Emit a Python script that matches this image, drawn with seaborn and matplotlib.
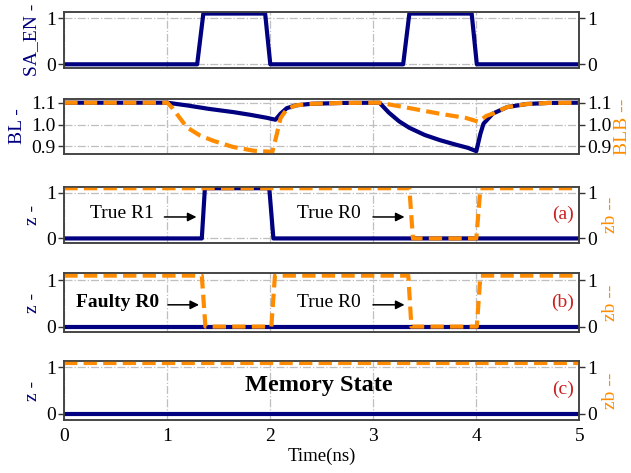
import numpy as np
import pandas as pd
import matplotlib
matplotlib.use("Agg")
import matplotlib.pyplot as plt
import seaborn as sns

sns.set_style("white")
plt.rcParams['font.family'] = ['Liberation Serif', 'DejaVu Serif']
plt.rcParams['text.color'] = 'black'
plt.rcParams['axes.labelcolor'] = 'black'
plt.rcParams['xtick.color'] = 'black'
plt.rcParams['ytick.color'] = 'black'

NAVY = "#000080"
ORANGE = "#FF8C00"
RED = "#CC1F1F"

# ---------------- data ----------------
t_sa = [0, 1.29, 1.35, 1.95, 2.0, 3.29, 3.35, 3.955, 4.005, 5]
sa_en = [0, 0, 1.1, 1.1, 0, 0, 1.1, 1.1, 0, 0]

t_bl = [0, 1.0, 1.2, 1.4, 1.64, 1.8, 1.965, 2.05, 2.1, 2.16, 2.25, 2.4, 2.7,
        3.06, 3.15, 3.25, 3.35, 3.5, 3.65, 3.8, 3.92, 4.0, 4.04, 4.07, 4.16, 4.3, 4.49, 4.7, 5.0]
bl = [1.1, 1.1, 1.087, 1.072, 1.057, 1.045, 1.031, 1.022, 1.05, 1.075, 1.088, 1.095, 1.099,
      1.1, 1.055, 1.015, 0.985, 0.952, 0.928, 0.908, 0.893, 0.878, 0.958, 1.004, 1.05, 1.08, 1.094, 1.099, 1.1]

t_blb = [0, 1.0, 1.05, 1.19, 1.32, 1.45, 1.64, 1.84, 2.02, 2.06, 2.1, 2.16, 2.25, 2.4, 2.7,
         3.06, 3.32, 3.64, 3.9, 4.02, 4.1, 4.16, 4.3, 4.49, 4.7, 5.0]
blb = [1.1, 1.1, 1.075, 0.987, 0.949, 0.925, 0.897, 0.88, 0.875, 0.95, 1.03, 1.07, 1.088, 1.095, 1.099,
       1.1, 1.078, 1.05, 1.03, 1.013, 1.04, 1.05, 1.08, 1.094, 1.099, 1.1]

t_z_a = [0, 1.335, 1.365, 1.99, 2.03, 5]
z_a = [0, 0, 1.1, 1.1, 0, 0]
t_zb_a = [0, 3.35, 3.385, 4.0, 4.04, 5]
zb_a = [1.1, 1.1, 0, 0, 1.1, 1.1]

t_z_b = [0, 5]
z_b = [0, 0]
t_zb_b = [0, 1.335, 1.37, 2.01, 2.045, 3.34, 3.37, 4.005, 4.04, 5]
zb_b = [1.1, 1.1, 0, 0, 1.1, 1.1, 0, 0, 1.1, 1.1]

t_z_c = [0, 5]
z_c = [0, 0]
t_zb_c = [0, 5]
zb_c = [1.1, 1.1]

xticks = [0, 1, 2, 3, 4, 5]

# ---------------- layout ----------------
W, H = 631, 473
fig = plt.figure(figsize=(W / 100, H / 100), dpi=100)
x0, x1 = 64.3, 579.3
# (top px, bottom px, ylim)
panels = [
    (11.7, 68.0, (-0.08, 1.14)),
    (99.0, 154.0, (0.865, 1.117)),
    (187.3, 243.0, (-0.10, 1.12)),
    (273.3, 331.7, (-0.11, 1.15)),
    (361.0, 420.0, (-0.14, 1.14)),
]

FS = 14
axes = []
for top, bot, yl in panels:
    ax = fig.add_axes([x0 / W, 1 - bot / H, (x1 - x0) / W, (bot - top) / H])
    ax.set_xlim(0, 5)
    ax.set_ylim(*yl)
    axes.append(ax)


def style(ax, yt, fmt=None, bottom_labels=False):
    ax.set_xticks(xticks)
    ax.set_yticks(yt)
    if fmt:
        ax.set_yticklabels([fmt.format(v) for v in yt])
    ax.tick_params(axis='both', direction='out', length=4, width=1, labelsize=FS,
                   color='0.2', pad=2)
    if not bottom_labels:
        ax.tick_params(axis='x', labelbottom=False)
    ax.grid(True, linestyle='-.', color='0.75', linewidth=0.9)
    for s in ax.spines.values():
        s.set_color('0.25')
        s.set_linewidth(1.1)


def twin(ax, yt, fmt=None, label=None):
    tx = ax.twinx()
    tx.set_ylim(ax.get_ylim())
    tx.set_yticks(yt)
    if fmt:
        tx.set_yticklabels([fmt.format(v) for v in yt])
    tx.tick_params(axis='y', direction='out', length=4, width=1, labelsize=FS,
                   color='0.2', pad=2)
    tx.grid(False)
    for s in tx.spines.values():
        s.set_color('0.25')
        s.set_linewidth(1.1)
    if label:
        tx.set_ylabel(label, color=ORANGE, fontsize=FS, labelpad=3)
    return tx


def navy_line(ax, t, v):
    sns.lineplot(x=t, y=v, ax=ax, color=NAVY, linewidth=3, estimator=None, sort=False)


def orange_line(ax, t, v):
    sns.lineplot(x=t, y=v, ax=ax, color=ORANGE, linewidth=3, estimator=None, sort=False)
    ax.lines[-1].set_dashes((3.2, 1.5))


# Panel 1: SA_EN
ax = axes[0]
navy_line(ax, t_sa, sa_en)
style(ax, [0, 1])
ax.set_ylabel("SA_EN -", color=NAVY, fontsize=FS)
tx = twin(ax, [0, 1])

# Panel 2: BL / BLB
ax = axes[1]
navy_line(ax, t_bl, bl)
style(ax, [0.9, 1.0, 1.1], "{:.1f}")
ax.set_ylabel("BL -", color=NAVY, fontsize=FS)
tx = twin(ax, [0.9, 1.0, 1.1], "{:.1f}", "BLB --")
tx.yaxis.labelpad = 1
orange_line(tx, t_blb, blb)
tx.set_ylim(ax.get_ylim())

# Panels 3-5
z_sets = [(t_z_a, z_a, t_zb_a, zb_a), (t_z_b, z_b, t_zb_b, zb_b), (t_z_c, z_c, t_zb_c, zb_c)]
tags = ["(a)", "(b)", "(c)"]
for i, (tz, z, tzb, zb) in enumerate(z_sets):
    ax = axes[2 + i]
    navy_line(ax, tz, z)
    style(ax, [0, 1], bottom_labels=(i == 2))
    ax.set_ylabel("z -", color=NAVY, fontsize=FS)
    tx = twin(ax, [0, 1], label="zb --")
    orange_line(tx, tzb, zb)
    tx.set_ylim(ax.get_ylim())
    tx.text(4.95, 0.52, tags[i], color=RED, fontsize=FS, ha='right', va='center')

arrow = dict(arrowstyle='-|>', color='black', lw=1.1, mutation_scale=13)
# Panel 3 annotations
axes[2].annotate("", xy=(1.31, 0.47), xytext=(0.945, 0.47), arrowprops=arrow)
axes[2].text(0.56, 0.55, "True R1", fontsize=FS, ha='center', va='center')
axes[2].annotate("", xy=(3.33, 0.47), xytext=(2.97, 0.47), arrowprops=arrow)
axes[2].text(2.57, 0.55, "True R0", fontsize=FS, ha='center', va='center')
# Panel 4 annotations
axes[3].annotate("", xy=(1.335, 0.47), xytext=(0.98, 0.47), arrowprops=arrow)
axes[3].text(0.52, 0.53, "Faulty R0", fontsize=FS, fontweight='bold', ha='center', va='center')
axes[3].annotate("", xy=(3.33, 0.47), xytext=(2.97, 0.47), arrowprops=arrow)
axes[3].text(2.57, 0.53, "True R0", fontsize=FS, ha='center', va='center')
# Panel 5
axes[4].text(2.47, 0.6, "Memory State", fontsize=17.5, fontweight='bold', ha='center', va='center')
axes[4].set_xlabel("Time(ns)", fontsize=13.5, labelpad=2)

fig.savefig("out.png", dpi=100)
